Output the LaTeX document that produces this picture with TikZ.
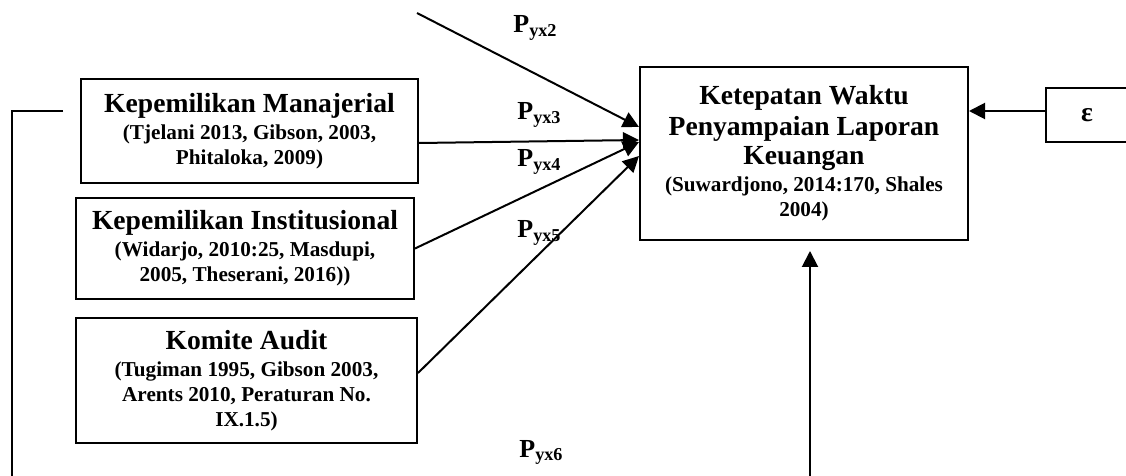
\documentclass[tikz,border=0pt]{standalone}
\usepackage{fontspec}
\setmainfont{Liberation Serif}
\usetikzlibrary{arrows.meta}
\newcommand{\vartitle}[1]{{\fontsize{13.8}{15.5}\selectfont #1}}

\begin{document}
\begin{tikzpicture}[x=0.5pt,y=-0.5pt,
  varbox/.style={draw,line width=1pt,align=center,inner sep=0pt,
    font=\fontsize{10.6}{12.5}\selectfont\bfseries},
  effect/.style={line width=1pt,-{Triangle[length=8pt,width=8pt]}},
  coef/.style={anchor=base west,inner sep=0pt,font=\fontsize{13}{15}\selectfont\bfseries}]
\useasboundingbox (0,0) rectangle (1126,476);
% variables
\node[varbox,minimum width=168.5pt,minimum height=52pt] (man) at (249.5,131)
  {\vartitle{Kepemilikan Manajerial}\\[1pt] (Tjelani 2013, Gibson, 2003,\\ Phitaloka, 2009)};
\node[varbox,minimum width=169pt,minimum height=50.5pt] (inst) at (245,248.5)
  {\vartitle{Kepemilikan Institusional}\\[1pt] (Widarjo, 2010:25, Masdupi,\\ 2005, Theserani, 2016))};
\node[varbox,minimum width=170.5pt,minimum height=62.5pt] (kom) at (246.5,380.5)
  {\vartitle{Komite Audit}\\[1pt] (Tugiman 1995, Gibson 2003,\\ Arents 2010, Peraturan No.\\ IX.1.5)};
\node[varbox,minimum width=164pt,minimum height=86.5pt] (Y) at (804,153.5)
  {\vartitle{Ketepatan Waktu}\\[2pt] \vartitle{Penyampaian Laporan}\\[2pt] \vartitle{Keuangan}\\[1pt]
   (Suwardjono, 2014:170, Shales\\ 2004)};
\node[varbox,minimum width=41pt,minimum height=27pt] (eps) at (1087,115) {\vartitle{ε}};
% paths
\coordinate (p2) at (417,13);
\draw[effect] (p2) -- ([yshift=13.25pt]Y.west);
\draw[effect] ([yshift=-6pt]man.east) -- ([yshift=6.75pt]Y.west);
\draw[effect] (inst.east) -- ([yshift=5.75pt]Y.west);
\draw[effect] ([yshift=3.75pt]kom.east) -- ([yshift=-1.25pt]Y.west);
\draw[effect] ([yshift=2pt]eps.west) coordinate (e1) -- (e1 -| Y.east);
\coordinate (p6) at (810,480);
\draw[effect,shorten >=5pt] (p6) -- (p6 |- Y.south);
\coordinate (lb) at (12,480);
\draw[line width=1pt] ([xshift=-8.5pt,yshift=10pt]man.west) -| (lb);
% coefficients
\node[coef] (c2) at (513,33) {P\textsubscript{yx2}};
\node[coef] (c3) at (517,120) {P\textsubscript{yx3}};
\node[coef] (c4) at (517,167) {P\textsubscript{yx4}};
\node[coef] (c5) at (517,238) {P\textsubscript{yx5}};
\node[coef] (c6) at (519,457) {P\textsubscript{yx6}};
\end{tikzpicture}
\end{document}
